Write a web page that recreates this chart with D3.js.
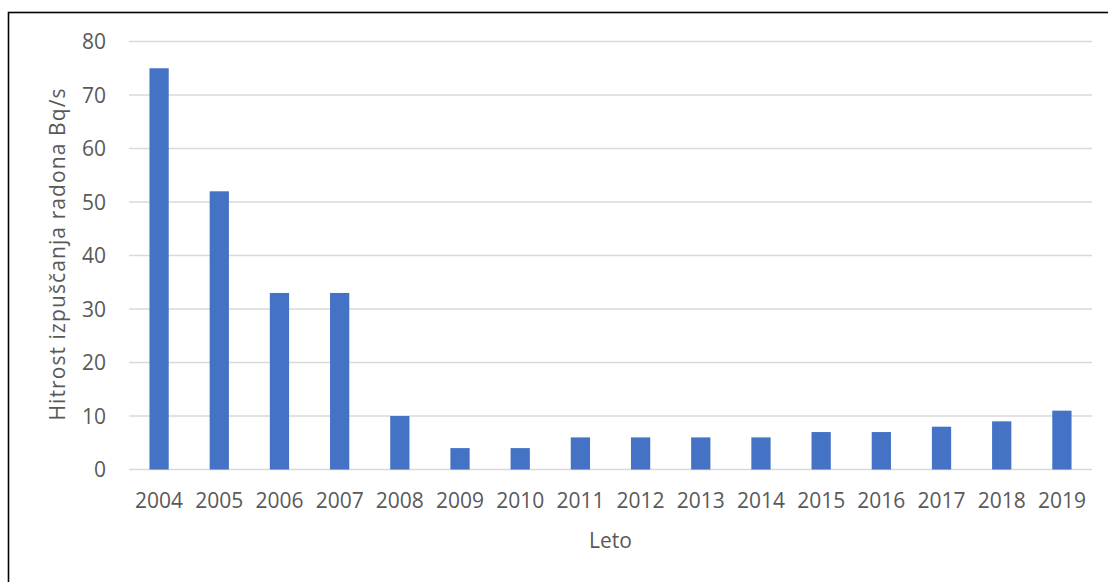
<!DOCTYPE html>
<html>
<head>
<meta charset="utf-8">
<script src="https://cdn.jsdelivr.net/npm/d3@7"></script>
<style>
  body { margin: 0; background: #fff; }
  text { font-family: "Open Sans", sans-serif; fill: #595959; }
</style>
</head>
<body>
<script>
var years = ["2004","2005","2006","2007","2008","2009","2010","2011","2012","2013","2014","2015","2016","2017","2018","2019"];
var values = [75, 52, 33, 33, 10, 4, 4, 6, 6, 6, 6, 7, 7, 8, 9, 11];
var yTicks = [0, 10, 20, 30, 40, 50, 60, 70, 80];

var width = 1108, height = 582;
var plotLeft = 129, plotRight = 1092, plotTop = 41.5, plotBottom = 469.5;

var svg = d3.select("body").append("svg")
	.attr("width", width)
	.attr("height", height);

// outer frame (only top and left edges fall inside the picture)
svg.append("rect")
	.attr("x", 8.5).attr("y", 12.5)
	.attr("width", 1300).attr("height", 800)
	.attr("fill", "none")
	.attr("stroke", "#000")
	.attr("stroke-width", 1.6);

var x = d3.scaleBand()
	.domain(years)
	.range([plotLeft, plotRight])
	.paddingInner(0.68)
	.paddingOuter(0.34);

var y = d3.scaleLinear()
	.domain([0, 80])
	.range([plotBottom, plotTop]);

// gridlines
svg.append("g").selectAll("line")
	.data(yTicks).enter()
	.append("line")
	.attr("x1", plotLeft).attr("x2", plotRight)
	.attr("y1", function(d){ return y(d); })
	.attr("y2", function(d){ return y(d); })
	.attr("stroke", "#d9d9d9")
	.attr("stroke-width", 1.5);

// y tick labels
svg.append("g").selectAll("text")
	.data(yTicks).enter()
	.append("text")
	.attr("x", 106)
	.attr("y", function(d){ return y(d) + 7.5; })
	.attr("text-anchor", "end")
	.style("font-size", "21px")
	.text(function(d){ return d; });

// bars
svg.append("g").selectAll("rect")
	.data(values).enter()
	.append("rect")
	.attr("x", function(d, i){ return x(years[i]); })
	.attr("y", function(d){ return y(d); })
	.attr("width", x.bandwidth())
	.attr("height", function(d){ return plotBottom - y(d); })
	.attr("fill", "#4472C4");

// x labels
svg.append("g").selectAll("text")
	.data(years).enter()
	.append("text")
	.attr("x", function(d){ return x(d) + x.bandwidth() / 2; })
	.attr("y", 508)
	.attr("text-anchor", "middle")
	.style("font-size", "21px")
	.text(function(d){ return d; });

// axis titles
svg.append("text")
	.attr("x", (plotLeft + plotRight) / 2)
	.attr("y", 548)
	.attr("text-anchor", "middle")
	.style("font-size", "21px")
	.text("Leto");

svg.append("text")
	.attr("transform", "translate(65,254) rotate(-90)")
	.attr("text-anchor", "middle")
	.style("font-size", "21px")
	.style("letter-spacing", "1.1px")
	.text("Hitrost izpuščanja radona Bq/s");
</script>
</body>
</html>
